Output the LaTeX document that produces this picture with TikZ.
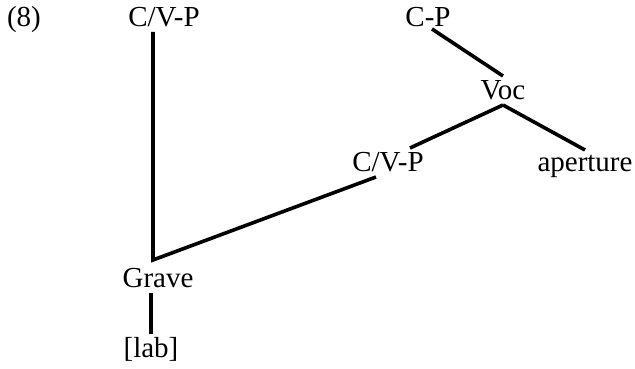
\documentclass[tikz,border=0pt]{standalone}
\usepackage{fontspec}
\setmainfont{Liberation Serif}
\usepackage{tikz}
\usetikzlibrary{positioning}

\begin{document}
\begin{tikzpicture}[
    x=1pt, y=1pt,
    feat/.style={anchor=base, inner sep=0pt, outer sep=5pt, text height=19pt, text depth=0pt,
                 font=\fontsize{29}{34}\selectfont},
    branch/.style={draw, line width=3.6pt}
]
    \useasboundingbox (0,0) rectangle (635,369);

    % Beispielnummer
    \node[feat] (num) at (24,342) {(8)};

    % Knoten
    \node[feat] (cvpA) at (164,342) {C/V-P};
    \node[feat] (cp) at (428,342) {C-P};
    \node[feat] (voc) at (503,269) {Voc};
    \node[feat] (cvpB) at (388,197) {C/V-P};
    \node[feat] (aper) at (585,197) {aperture};
    \node[feat] (grave) at (158,81) {Grave};
    \node[feat] (lab) at (151,11) {[lab]};

    \coordinate (join) at (153,109);

    % Linien
    \draw[branch] (cvpA.south -| join) -- (join) -- ([xshift=-12pt]cvpB.south);
    \draw[branch] ([shift={(4,3)}]cp.south) -- (voc.north);
    \draw[branch] (voc.south) -- ([xshift=22pt]cvpB.north);
    \draw[branch] (voc.south) -- ([yshift=-2pt]aper.north);
    \draw[branch] (lab.north |- grave.south) -- (lab.north);
\end{tikzpicture}
\end{document}
